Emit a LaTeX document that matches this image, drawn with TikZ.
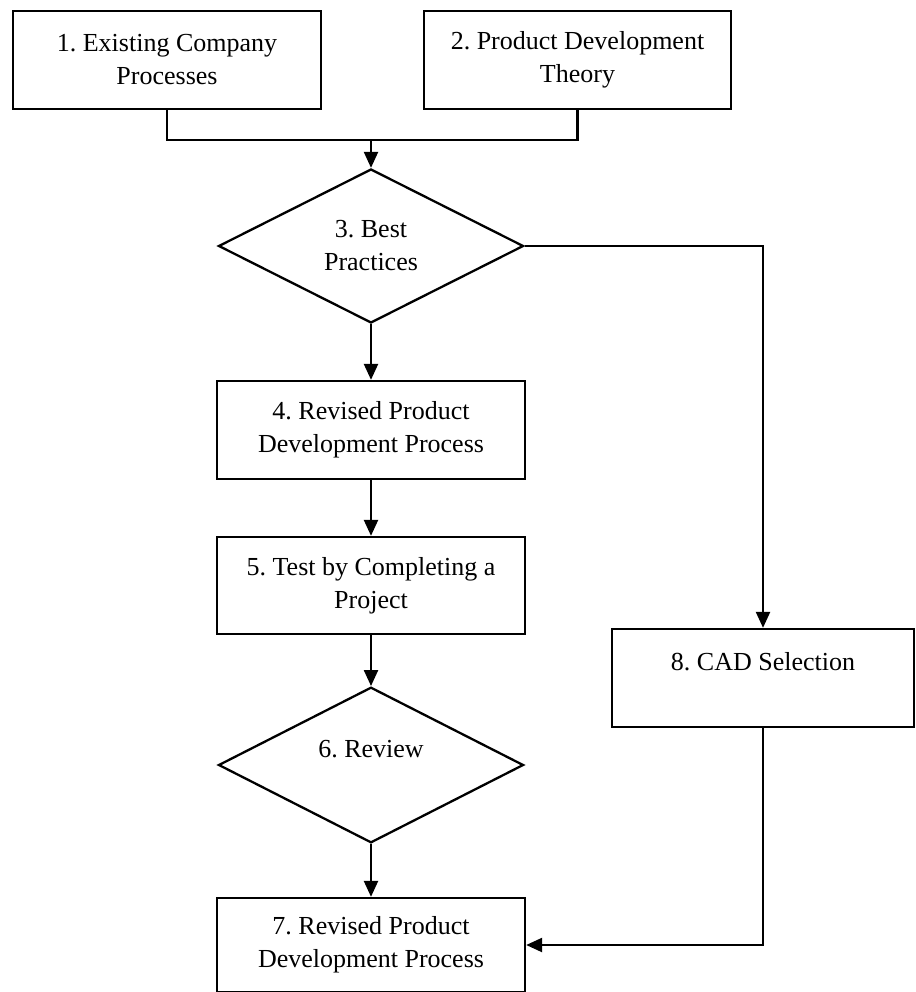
\documentclass[tikz,border=0pt]{standalone}
\usepackage{fontspec}
\setmainfont{Liberation Serif}
\usetikzlibrary{shapes.geometric,arrows.meta}
\frenchspacing
\begin{document}
\begin{tikzpicture}[x=1pt,y=-1pt,
  every node/.style={font=\frenchspacing\fontsize{26}{33}\selectfont, align=center},
  stepbox/.style={draw, line width=2.3pt, rectangle, inner sep=0pt},
  decision/.style={draw, line width=2.3pt, diamond, inner sep=0pt, minimum width=305pt, minimum height=154pt},
  conn/.style={line width=2.3pt, line join=miter},
  arr/.style={conn, -{Triangle[length=16pt,width=14pt]}}]
\useasboundingbox (0,0) rectangle (915,992);
\node[stepbox, minimum width=308pt, minimum height=98pt] (b1) at (167,60) {1. Existing Company\\Processes};
\node[stepbox, minimum width=307pt, minimum height=98pt] (b2) at (577.5,60) {2. Product Development\\Theory};
\coordinate (j) at (371,140);
\node[decision] (d3) at (371,246) {3. Best\\Practices};
\node[stepbox, minimum width=308pt, minimum height=98pt] (b4) at (371,430) {4. Revised Product\\Development Process};
\node[stepbox, minimum width=308pt, minimum height=97pt] (b5) at (371,585.5) {5. Test by Completing a\\Project};
\node[decision] (d6) at (371,765) {6. Review\\~};
\node[stepbox, minimum width=308pt, minimum height=94pt] (b7) at (371,945) {7. Revised Product\\Development Process};
\node[stepbox, minimum width=302pt, minimum height=98pt] (b8) at (763,678) {8. CAD Selection\\~};
\draw[conn] (b1.south) |- (j) -| (b2.south);
\draw[arr] (j) -- (d3.north);
\draw[arr] (d3.east) -| (b8.north);
\draw[arr] (d3.south) -- (b4.north);
\draw[arr] (b4.south) -- (b5.north);
\draw[arr] (b5.south) -- (d6.north);
\draw[arr] (d6.south) -- (b7.north);
\draw[arr] (b8.south) |- (b7.east);
\end{tikzpicture}
\end{document}
